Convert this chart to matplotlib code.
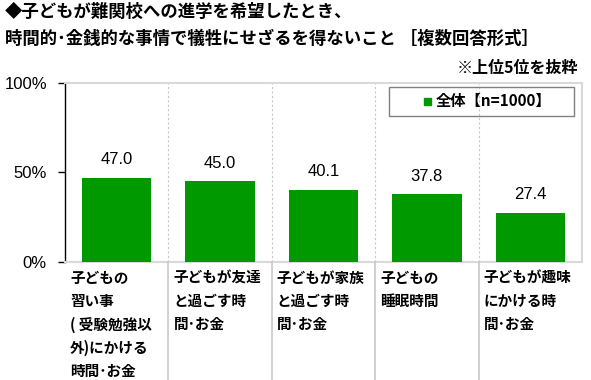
import matplotlib
matplotlib.use("Agg")
import matplotlib.pyplot as plt
from matplotlib.patches import Rectangle
from matplotlib.lines import Line2D

plt.rcParams['font.family'] = ['Liberation Sans', 'Noto Sans CJK JP']

categories = ["子どもの\n習い事\n( 受験勉強以\n外)にかける\n時間･お金",
              "子どもが友達\nと過ごす時\n間･お金",
              "子どもが家族\nと過ごす時\n間･お金",
              "子どもの\n睡眠時間",
              "子どもが趣味\nにかける時\n間･お金"]
values = [47.0, 45.0, 40.1, 37.8, 27.4]
yticks = [0, 50, 100]
ytick_labels = ["0%", "50%", "100%"]
legend_label = "全体【n=1000】"
title = "◆子どもが難関校への進学を希望したとき、\n時間的･金銭的な事情で犠牲にせざるを得ないこと ［複数回答形式］"
note = "※上位5位を抜粋"

green = "#009900"
grid_gray = "#c8c8c8"

fig = plt.figure(figsize=(5.91, 3.80), dpi=100)
ax = fig.add_axes([65/591, 118/380, 517/591, 179/380])

n = len(values)
x = list(range(n))
ax.bar(x, values, width=0.67, color=green, zorder=3)
ax.set_xlim(-0.5, n - 0.5)
ax.set_ylim(0, 100)

for xi, v in zip(x, values):
    ax.text(xi, v + 6, f"{v:.1f}", ha='center', va='bottom', fontsize=12,
            family=['Liberation Sans', 'Noto Sans CJK JP'])

# dashed separators inside plot
for i in range(1, n):
    ax.axvline(i - 0.5, color=grid_gray, lw=0.8, ls=(0, (2, 2)), zorder=1)

# frame
for side in ['top', 'right', 'bottom']:
    ax.spines[side].set_color("#d9d9d9")
    ax.spines[side].set_linewidth(1.5)
ax.spines['left'].set_color('black')
ax.spines['left'].set_linewidth(1.0)

ax.set_xticks([])
ax.set_yticks(yticks)
ax.set_yticklabels(ytick_labels, fontsize=12)
ax.tick_params(axis='y', length=5, width=1, color='black', pad=8)

# separators and labels under the axis
for i in range(1, n):
    fx = (65 + i * 517 / n) / 591
    fig.add_artist(Line2D([fx, fx], [0, 118/380], color="#c8c8c8", lw=1.2))
for i, lab in enumerate(categories):
    fx = (65 + i * 517 / n + 5) / 591
    fig.text(fx, 110/380, lab, ha='left', va='top', fontsize=10.5, fontweight='bold',
             linespacing=1.55, family=['Noto Sans CJK JP'])

# legend box
fig.add_artist(Rectangle((389/591, (380-116)/380), 185/591, 29/380,
                         transform=fig.transFigure, fill=False, edgecolor="#808080", lw=1.0))
fig.add_artist(Rectangle((424/591, (380-105)/380), 7/591, 7/380,
                         transform=fig.transFigure, color=green))
fig.text(436/591, (380-101)/380, legend_label, ha='left', va='center', fontsize=11,
         fontweight='bold', family=['Noto Sans CJK JP'])

fig.text(5/591, 1 - 3/380, title, ha='left', va='top', fontsize=12.5, fontweight='bold',
         linespacing=1.6, family=['Noto Sans CJK JP'])
fig.text(578/591, (380-68)/380, note, ha='right', va='center', fontsize=11.5,
         fontweight='bold', family=['Noto Sans CJK JP'])

fig.savefig("out.png", dpi=100)
